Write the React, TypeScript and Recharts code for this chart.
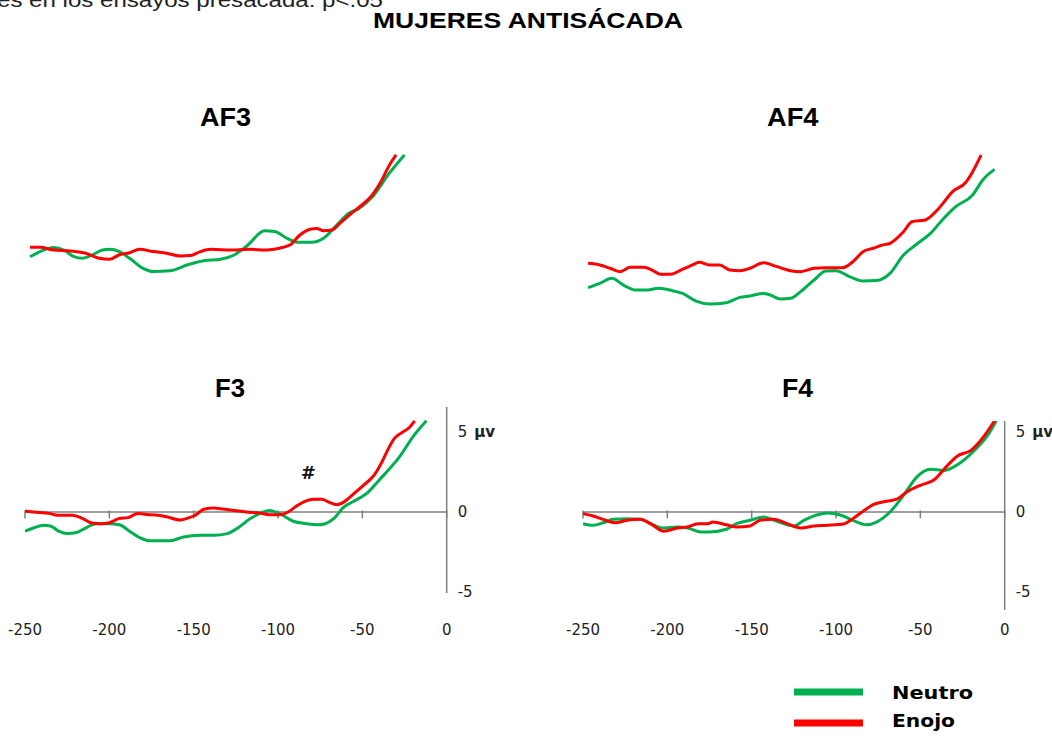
import React from 'react';
import { LineChart, Line, XAxis, YAxis, ReferenceLine, ReferenceDot } from 'recharts';

const GREEN = '#00B050';
const RED = '#FF0000';
const AXIS = '#7F7F7F';

const xTicks = [-250, -200, -150, -100, -50, 0];
const yTicks = [-5, 0, 5];

// AF3
const af3EnojoT = [-247, -241, -233, -223, -214, -206, -200, -194, -188, -182, -174, -166, -158, -152, -146, -140, -128, -117, -107, -97, -93, -87, -81, -77, -73, -68, -63, -57, -51, -45, -39, -34, -30];
const af3EnojoV = [0.17, 0.17, 0, -0.06, -0.2, -0.52, -0.58, -0.3, -0.17, 0.04, -0.1, -0.2, -0.37, -0.35, -0.1, 0.04, 0, 0.04, 0, 0.17, 0.31, 0.94, 1.3, 1.35, 1.2, 1.25, 1.7, 2.25, 2.75, 3.33, 4.27, 5.3, 5.94];
const af3NeutroT = [-247, -241, -233, -227, -221, -216, -210, -204, -200, -194, -188, -180, -174, -164, -154, -144, -134, -126, -118, -108, -102, -94, -88, -80, -73, -66, -58, -52, -44, -34, -25];
const af3NeutroV = [-0.42, -0.1, 0.15, 0, -0.42, -0.52, -0.31, 0, 0.04, -0.1, -0.52, -1.15, -1.35, -1.3, -0.94, -0.67, -0.58, -0.31, 0.3, 1.2, 1.15, 0.69, 0.48, 0.48, 0.73, 1.46, 2.3, 2.6, 3.33, 4.8, 5.94];

// AF4
const af4EnojoT = [-247, -240, -234, -228, -222, -214, -209, -204, -198, -192, -186, -181, -175, -169, -163, -157, -151, -143, -135, -127, -121, -113, -106, -96, -90, -84, -78, -72, -68, -60, -55, -47, -39, -31, -23, -19, -14];
const af4EnojoV = [0.73, 0.63, 0.42, 0.21, 0.48, 0.48, 0.31, 0.04, 0.04, 0.31, 0.58, 0.79, 0.63, 0.63, 0.31, 0.27, 0.42, 0.77, 0.52, 0.27, 0.21, 0.42, 0.46, 0.46, 0.83, 1.46, 1.67, 1.88, 1.98, 2.7, 3.33, 3.44, 4.17, 5.2, 5.8, 6.46, 7.5];
const af4NeutroT = [-247, -240, -233, -226, -219, -213, -205, -197, -191, -183, -175, -165, -157, -151, -143, -139, -133, -127, -121, -113, -106, -100, -92, -84, -76, -68, -60, -52, -44, -37, -29, -19, -13, -6];
const af4NeutroV = [-0.79, -0.52, -0.21, -0.63, -0.94, -0.94, -0.83, -0.98, -1.15, -1.63, -1.81, -1.73, -1.4, -1.31, -1.15, -1.25, -1.5, -1.46, -1.04, -0.31, 0.25, 0.27, -0.1, -0.38, -0.35, 0.1, 1.25, 1.94, 2.6, 3.44, 4.27, 5.0, 5.94, 6.6];

// F3
const f3EnojoT = [-250, -245, -235, -231, -225, -222, -216, -211, -205, -200, -194, -189, -183, -178, -171, -166, -158, -154, -149, -144, -138, -134, -126, -119, -111, -105, -99, -94, -89, -85, -79, -74, -70, -65, -61, -55, -49, -43, -39, -36, -31, -26, -22, -19];
const f3EnojoV = [0.06, 0, -0.1, -0.2, -0.2, -0.2, -0.4, -0.67, -0.73, -0.67, -0.4, -0.35, -0.1, -0.15, -0.2, -0.3, -0.5, -0.4, -0.2, 0.17, 0.25, 0.2, 0.1, 0, -0.06, -0.17, -0.17, 0, 0.37, 0.62, 0.8, 0.8, 0.62, 0.46, 0.62, 1.15, 1.7, 2.3, 3.0, 3.65, 4.6, 5.0, 5.3, 5.7];
const f3NeutroT = [-250, -245, -239, -235, -230, -225, -220, -213, -208, -200, -194, -188, -182, -176, -164, -156, -146, -138, -130, -125, -117, -111, -105, -99, -91, -83, -77, -72, -67, -61, -55, -47, -40, -28, -20, -12];
const f3NeutroV = [-1.2, -1.0, -0.83, -0.87, -1.2, -1.35, -1.3, -0.94, -0.73, -0.73, -0.8, -1.2, -1.6, -1.8, -1.8, -1.56, -1.46, -1.46, -1.35, -1.08, -0.46, -0.1, 0.1, -0.1, -0.58, -0.73, -0.8, -0.73, -0.42, 0.31, 0.67, 1.2, 2.0, 3.44, 4.7, 5.7];

// F4
const f4EnojoT = [-250, -244, -238, -231, -224, -216, -210, -202, -194, -188, -182, -176, -173, -165, -159, -151, -145, -137, -129, -121, -113, -105, -95, -90, -84, -78, -70, -64, -58, -50, -42, -34, -28, -20, -14, -6];
const f4EnojoV = [-0.1, -0.25, -0.46, -0.67, -0.52, -0.46, -0.73, -1.2, -1.0, -0.94, -0.73, -0.73, -0.63, -0.8, -0.94, -0.87, -0.52, -0.46, -0.73, -1.0, -0.87, -0.83, -0.73, -0.42, 0.04, 0.46, 0.67, 0.8, 1.25, 1.67, 2.0, 2.9, 3.5, 3.85, 4.5, 5.7];
const f4NeutroT = [-250, -244, -238, -232, -224, -216, -208, -202, -194, -188, -180, -175, -165, -159, -151, -143, -135, -125, -119, -111, -105, -97, -90, -82, -76, -68, -60, -52, -44, -36, -26, -16, -10, -5];
const f4NeutroV = [-0.73, -0.83, -0.67, -0.46, -0.42, -0.46, -0.83, -1.0, -0.94, -1.0, -1.25, -1.25, -1.08, -0.73, -0.52, -0.31, -0.58, -0.87, -0.52, -0.17, -0.06, -0.2, -0.52, -0.8, -0.63, 0, 1.04, 2.2, 2.67, 2.6, 3.1, 4.06, 4.8, 5.7];

const zip = (t: number[], v: number[]) => t.map((x, i) => ({ t: x, v: v[i] }));

const TICK_FONT = 'DejaVu Sans, Verdana, sans-serif';

const YTick = (props: any) => {
  const { x, y, payload } = props;
  return (
    <text x={x} y={y} dy="0.35em" textAnchor="start" fontFamily={TICK_FONT} fontSize={15} fill="#222">
      {String(payload.value)}
      {payload.value === 5 ? <tspan dx={7} fontWeight="bold">µv</tspan> : null}
    </text>
  );
};

type PanelProps = {
  plotLeft: number;
  plotTop: number;
  plotW: number;
  plotH: number;
  yDomain: [number, number];
  axes: boolean;
  labelGap?: number;
  neutro: { t: number; v: number }[];
  enojo: { t: number; v: number }[];
  mark?: { t: number; v: number; text: string };
};

const ML = 20, MT = 10, MR = 10;
const YW = 60, XH = 50;

function Panel({ plotLeft, plotTop, plotW, plotH, yDomain, axes, labelGap = 22, neutro, enojo, mark }: PanelProps) {
  const width = ML + plotW + MR + (axes ? YW : 0);
  const height = MT + plotH + (axes ? XH : 10);
  return (
    <div style={{ position: 'absolute', left: plotLeft - ML, top: plotTop - MT, width, height }}>
      <LineChart width={width} height={height} margin={{ top: MT, right: MR, left: ML, bottom: axes ? 0 : 10 }}>
        <XAxis
          type="number"
          dataKey="t"
          domain={[-250, 0]}
          ticks={xTicks}
          allowDataOverflow
          hide={!axes}
          height={XH}
          axisLine={false}
          tickLine={false}
          tickMargin={labelGap}
          tick={{ fontFamily: TICK_FONT, fontSize: 15, fill: '#222' }}
        />
        <YAxis
          type="number"
          dataKey="v"
          orientation="right"
          domain={yDomain}
          ticks={yTicks}
          allowDataOverflow
          hide={!axes}
          width={YW}
          axisLine={{ stroke: AXIS, strokeWidth: 1.5 }}
          tickLine={false}
          tickMargin={5}
          tick={<YTick />}
        />
        {axes && <ReferenceLine y={0} stroke={AXIS} strokeWidth={1.5} />}
        {axes &&
          xTicks.map((t) => (
            <ReferenceLine
              key={t}
              segment={[{ x: t, y: 0.1 }, { x: t, y: -0.4 }]}
              stroke={AXIS}
              strokeWidth={1.5}
            />
          ))}
        <Line data={neutro} dataKey="v" type="monotone" stroke={GREEN} strokeWidth={3} dot={false} isAnimationActive={false} />
        <Line data={enojo} dataKey="v" type="monotone" stroke={RED} strokeWidth={3} dot={false} isAnimationActive={false} />
        {mark && (
          <ReferenceDot
            x={mark.t}
            y={mark.v}
            r={0}
            fill="none"
            stroke="none"
            label={{ value: mark.text, position: 'center', fontFamily: 'DejaVu Sans, sans-serif', fontWeight: 'bold', fontSize: 18, fill: '#111' }}
          />
        )}
      </LineChart>
    </div>
  );
}

export default function App() {
  const pw = 421.7;
  return (
    <div style={{ position: 'absolute', left: 0, top: 0, width: 1052, height: 736, background: '#fff', overflow: 'hidden' }}>
      <Panel plotLeft={25} plotTop={150} plotW={pw} plotH={180} yDomain={[-5, 6.25]} axes={false}
        neutro={zip(af3NeutroT, af3NeutroV)} enojo={zip(af3EnojoT, af3EnojoV)} />
      <Panel plotLeft={582.7} plotTop={150} plotW={pw} plotH={200} yDomain={[-4.6875, 7.8125]} axes={false}
        neutro={zip(af4NeutroT, af4NeutroV)} enojo={zip(af4EnojoT, af4EnojoV)} />
      <Panel plotLeft={25} plotTop={407} plotW={pw} plotH={186} yDomain={[-5.0625, 6.5625]} axes labelGap={25}
        neutro={zip(f3NeutroT, f3NeutroV)} enojo={zip(f3EnojoT, f3EnojoV)} mark={{ t: -82, v: 2.45, text: '#' }} />
      <Panel plotLeft={582.7} plotTop={421} plotW={pw} plotH={189} yDomain={[-6.125, 5.6875]} axes labelGap={8}
        neutro={zip(f4NeutroT, f4NeutroV)} enojo={zip(f4EnojoT, f4EnojoV)} />
      <svg width={1052} height={736} style={{ position: 'absolute', left: 0, top: 0, pointerEvents: 'none' }}>
        <text x={-3} y={7} fontFamily="Liberation Sans, Arial, sans-serif" fontSize={21} fill="#222" textLength={386} lengthAdjust="spacingAndGlyphs">
          es en los ensayos presacada: p&lt;.05
        </text>
        <g fontFamily="Liberation Sans, Arial, sans-serif" fontWeight="bold" fill="#000">
          <text x={373} y={28} fontSize={22.5} textLength={310} lengthAdjust="spacingAndGlyphs">MUJERES ANTISÁCADA</text>
          <text x={200} y={126} fontSize={25} textLength={51} lengthAdjust="spacingAndGlyphs">AF3</text>
          <text x={767} y={126} fontSize={25} textLength={51.5} lengthAdjust="spacingAndGlyphs">AF4</text>
          <text x={215} y={397} fontSize={25} textLength={30} lengthAdjust="spacingAndGlyphs">F3</text>
          <text x={782} y={397} fontSize={25} textLength={31} lengthAdjust="spacingAndGlyphs">F4</text>
        </g>
        <rect x={794} y={688.5} width={69} height={7} fill={GREEN} />
        <rect x={794} y={719.5} width={69} height={7} fill={RED} />
        <g fontFamily="DejaVu Sans, Verdana, sans-serif" fontWeight="bold" fill="#000" fontSize={18}>
          <text x={892} y={699} textLength={81} lengthAdjust="spacingAndGlyphs">Neutro</text>
          <text x={892} y={727} textLength={63} lengthAdjust="spacingAndGlyphs">Enojo</text>
        </g>
      </svg>
    </div>
  );
}
